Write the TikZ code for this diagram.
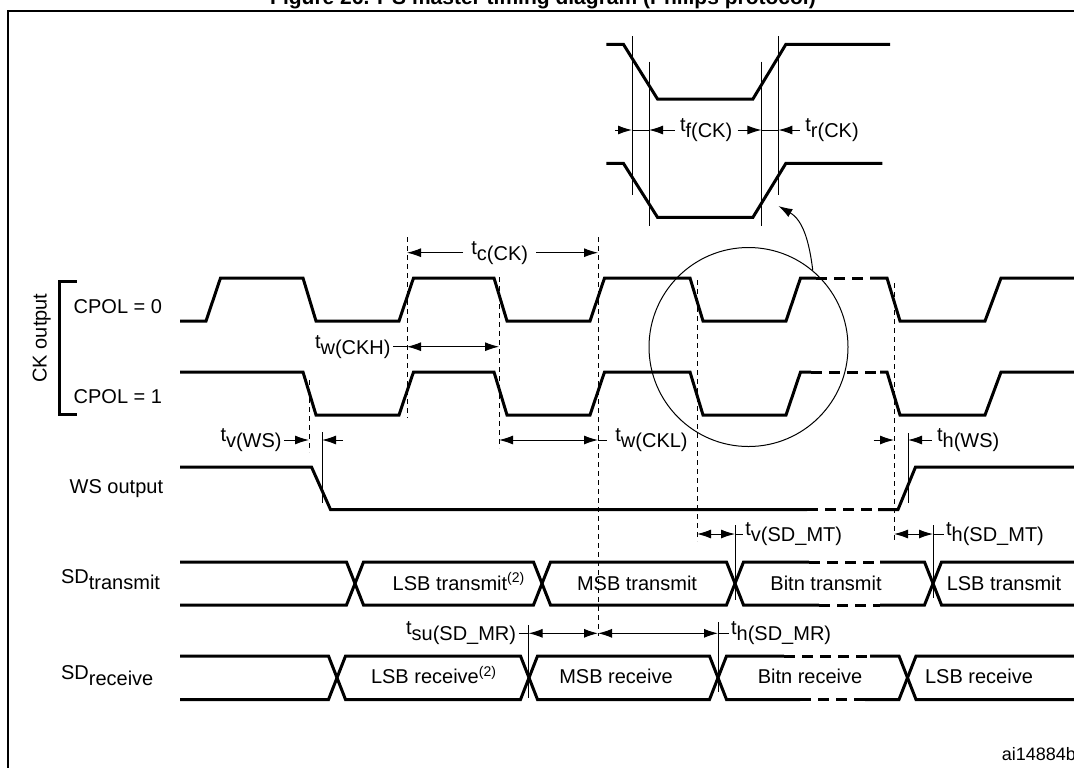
\documentclass[tikz,border=0pt]{standalone}
\usepackage{fontspec}
\setmainfont{Liberation Sans}
\usepackage{tikz}
\usetikzlibrary{arrows.meta}
\tikzstyle{wave} = [line width=1.5pt]
\tikzstyle{wavegap} = [line width=1.5pt, dash pattern=on 5.5pt off 3.5pt]
\tikzstyle{guide} = [line width=0.5pt, dash pattern=on 2.5pt off 2pt]
\tikzstyle{tline} = [line width=0.5pt]
\tikzstyle{dimto} = [line width=0.5pt, -{Latex[length=7pt,width=4.5pt]}]
\tikzstyle{dimboth} = [line width=0.5pt, {Latex[length=7pt,width=4.5pt]}-{Latex[length=7pt,width=4.5pt]}]
\tikzstyle{lbl} = [inner ysep=0pt, inner xsep=1pt, font=\fontsize{10}{12}\selectfont]
\tikzstyle{sig} = [inner sep=0pt, font=\fontsize{10}{12}\selectfont]
\newcommand{\tparam}[1]{t\raisebox{-0.3em}{#1}}

\begin{document}
\begin{tikzpicture}[x=0.5pt, y=-0.5pt]
\useasboundingbox (0,0) rectangle (1074,767);

\node[anchor=base, inner sep=0pt, font=\bfseries\fontsize{10.5}{12}\selectfont] (title) at (543,4) {Figure 26. I\textsuperscript{2}S master timing diagram (Philips protocol)};
\draw[line width=1pt] (7.5,780) -- (7.5,11) -- (1080,11);

% signal names
\node[sig, rotate=90, anchor=base] (ckout) at (46.5,338) {CK output};
\draw[wave] (76.7,281.7) -- (59.3,281.7) -- (59.3,414.3) -- (76.7,414.3);
\node[sig, anchor=base west] (cpol0) at (73.3,313.3) {CPOL = 0};
\node[sig, anchor=base west] (cpol1) at (73.3,403.3) {CPOL = 1};
\node[sig, anchor=base west] (wsout) at (69.3,493.3) {WS output};
\node[sig, anchor=base west] (sdt) at (60.7,583.3) {SD\raisebox{-0.3em}{transmit}};
\node[sig, anchor=base west] (sdr) at (60.7,679.3) {SD\raisebox{-0.3em}{receive}};

% CK, CPOL = 0
\draw[wave] (180,321) -- (206,321) -- (220.5,278) -- (303,278) -- (316,321) -- (399,321) -- (413.5,278) -- (494,278) -- (507,321) -- (590,321) -- (604.5,278) -- (690,278) -- (703,321) -- (786,321) -- (800.5,278) -- (816,278);
\draw[wavegap] (816,278) -- (870,278);
\draw[wave] (870,278) -- (887,278) -- (900,321) -- (985,321) -- (1001,278) -- (1080,278);

% CK, CPOL = 1
\draw[wave] (180,372) -- (303,372) -- (316,415) -- (399,415) -- (413.5,372) -- (494,372) -- (507,415) -- (590,415) -- (604.5,372) -- (690,372) -- (703,415) -- (786,415) -- (800.5,372) -- (811,372);
\draw[wavegap] (811,372) -- (880,372);
\draw[wave] (880,372) -- (887,372) -- (900,415) -- (985,415) -- (1001,372) -- (1080,372);

% WS
\draw[wave] (180,467) -- (311.5,467) -- (330.5,509.5) -- (807,509.5);
\draw[wavegap] (807,509.5) -- (878,509.5);
\draw[wave] (878,509.5) -- (898,509.5) -- (915.5,467) -- (1080,467);

% SD transmit
\draw[wave] (180,562) -- (346.5,562) -- (363.5,605) -- (533.5,605) -- (550.5,562) -- (726.5,562) -- (743.5,605) -- (819,605);
\draw[wavegap] (819,605) -- (880,605);
\draw[wave] (880,605) -- (924.5,605) -- (941.5,562) -- (1080,562);
\draw[wave] (180,605) -- (346.5,605) -- (363.5,562) -- (533.5,562) -- (550.5,605) -- (726.5,605) -- (743.5,562) -- (809,562);
\draw[wavegap] (809,562) -- (880,562);
\draw[wave] (880,562) -- (924.5,562) -- (941.5,605) -- (1080,605);
\node[sig, anchor=base] (lsbt) at (459,590) {LSB transmit\textsuperscript{(2)}};
\node[sig, anchor=base] (msbt) at (637,590) {MSB transmit};
\node[sig, anchor=base] (bitt) at (826,590) {Bitn transmit};
\node[sig, anchor=base] (lsbt2) at (1004,590) {LSB transmit};

% SD receive
\draw[wave] (180,656) -- (328.5,656) -- (345.5,699.5) -- (520.5,699.5) -- (537.5,656) -- (709.5,656) -- (726.5,699.5) -- (800,699.5);
\draw[wavegap] (800,699.5) -- (865,699.5);
\draw[wave] (865,699.5) -- (899,699.5) -- (916,656) -- (1080,656);
\draw[wave] (180,699.5) -- (328.5,699.5) -- (345.5,656) -- (520.5,656) -- (537.5,699.5) -- (709.5,699.5) -- (726.5,656) -- (784,656);
\draw[wavegap] (784,656) -- (870,656);
\draw[wave] (870,656) -- (899,656) -- (916,699.5) -- (1080,699.5);
\node[sig, anchor=base] (lsbr) at (434,683.5) {LSB receive\textsuperscript{(2)}};
\node[sig, anchor=base] (msbr) at (616,683.5) {MSB receive};
\node[sig, anchor=base] (bitr) at (810,683.5) {Bitn receive};
\node[sig, anchor=base] (lsbr2) at (979,683.5) {LSB receive};

% reference lines
\draw[guide] (407,237) -- (407,418);
\draw[guide] (499,277) -- (499,448);
\draw[guide] (598,237) -- (598,636);
\draw[guide] (697,280) -- (697,541);
\draw[guide] (894,283) -- (894,543);
\draw[guide] (309,380) -- (309,452);
\draw[tline] (322,432) -- (322,503);
\draw[tline] (908,433) -- (908,503);
\draw[tline] (735,525) -- (735,600);
\draw[tline] (933,525) -- (933,598);
\draw[tline] (528.6,625) -- (528.6,698);
\draw[tline] (718,622) -- (718,692);

% t_c(CK)
\coordinate (tcA) at (407,252.7);
\coordinate (tcB) at (598,252.7);
\node[lbl, inner xsep=4pt, anchor=west] (tc) at (463,252.7) {\tparam{c(CK)}};
\draw[dimto] (tc.west) -- (tcA);
\draw[dimto] (tc.east) -- (tcB);

% t_w(CKH)
\coordinate (twhA) at (407,346.7);
\coordinate (twhB) at (499,346.7);
\node[lbl, anchor=east] (twh) at (393,346.7) {\tparam{w(CKH)}};
\draw[tline] (twh.east) -- (twhA);
\draw[dimboth] (twhA) -- (twhB);

% t_v(WS)
\coordinate (tvwA) at (309,440);
\coordinate (tvwB) at (322,440);
\coordinate (tvwC) at (343,440);
\node[lbl, anchor=east] (tvw) at (284,440) {\tparam{v(WS)}};
\draw[dimto] (tvw.east) -- (tvwA);
\draw[dimto] (tvwC) -- (tvwB);

% t_w(CKL)
\coordinate (twlA) at (499,440);
\coordinate (twlB) at (598,440);
\node[lbl, inner xsep=4pt, anchor=west] (twl) at (607,440) {\tparam{w(CKL)}};
\draw[dimboth] (twlA) -- (twlB);
\draw[tline] (twlB) -- (twl.west);

% t_h(WS)
\coordinate (thwA) at (873.5,440);
\coordinate (thwB) at (894,440);
\coordinate (thwC) at (908,440);
\node[lbl, inner xsep=2.5pt, anchor=west] (thw) at (931.7,440) {\tparam{h(WS)}};
\draw[dimto] (thwA) -- (thwB);
\draw[dimto] (thw.west) -- (thwC);

% t_v(SD_MT), t_h(SD_MT)
\coordinate (tvsA) at (697,534);
\coordinate (tvsB) at (735,534);
\node[lbl, anchor=west] (tvs) at (743,534) {\tparam{v(SD\_MT)}};
\draw[dimboth] (tvsA) -- (tvsB);
\draw[tline] (tvsB) -- (tvs.west);
\coordinate (thsA) at (894,534);
\coordinate (thsB) at (933,534);
\node[lbl, anchor=west] (ths) at (943.7,534) {\tparam{h(SD\_MT)}};
\draw[dimboth] (thsA) -- (thsB);
\draw[tline] (thsB) -- (ths.west);

% t_su(SD_MR), t_h(SD_MR)
\coordinate (tsuA) at (528.6,633.3);
\coordinate (tsuB) at (598,633.3);
\node[lbl, anchor=east] (tsu) at (518.5,633.3) {\tparam{su(SD\_MR)}};
\draw[tline] (tsu.east) -- (tsuA);
\draw[dimboth] (tsuA) -- (tsuB);
\coordinate (thrB) at (718,633.3);
\node[lbl, anchor=west] (thr) at (728.7,633.3) {\tparam{h(SD\_MR)}};
\draw[dimboth] (tsuB) -- (thrB);
\draw[tline] (thrB) -- (thr.west);

% zoomed edge
\node[tline, draw, circle, minimum size=99.5pt, inner sep=0pt] (zoomc) at (748.5,347) {};
\coordinate (zoomtip) at (778.4,206);
\draw[dimto] (zoomc.50) to[out=97, in=-30] (zoomtip);
\draw[wave] (606.4,44.3) -- (623.4,44.3) -- (657.5,99) -- (752.9,99) -- (785.9,44.3) -- (890,44.3);
\draw[wave] (606.4,163.3) -- (623.4,163.3) -- (657.5,217.3) -- (752.9,217.3) -- (785.9,163.3) -- (882.3,163.3);
\draw[tline] (632,36) -- (632,195);
\draw[tline] (649,61.7) -- (649,226);
\draw[tline] (761.4,61.7) -- (761.4,226);
\draw[tline] (778.4,36) -- (778.4,195);
\coordinate (tfA) at (615,130);
\coordinate (tfB) at (632,130);
\coordinate (tfC) at (649,130);
\coordinate (trA) at (761.4,130);
\coordinate (trB) at (778.4,130);
\node[lbl, inner xsep=2.5pt, anchor=west] (tf) at (674.6,130) {\tparam{f(CK)}};
\node[lbl, inner xsep=2.5pt, anchor=west] (tr) at (800,130) {\tparam{r(CK)}};
\draw[dimto] (tfA) -- (tfB);
\draw[tline] (tfB) -- (tfC);
\draw[dimto] (tf.west) -- (tfC);
\draw[dimto] (tf.east) -- (trA);
\draw[tline] (trA) -- (trB);
\draw[dimto] (tr.west) -- (trB);

\node[anchor=base west, inner sep=0pt, font=\fontsize{9}{11}\selectfont] (ref) at (1001.5,760.7) {ai14884b};
\end{tikzpicture}
\end{document}
